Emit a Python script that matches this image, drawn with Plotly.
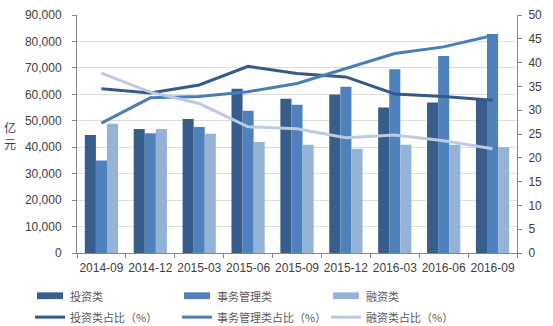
import plotly.graph_objects as go

periods = ["2014-09", "2014-12", "2015-03", "2015-06", "2015-09",
           "2015-12", "2016-03", "2016-06", "2016-09"]

# 规模（亿元）
invest = [44600, 46900, 50700, 62100, 58300, 59900, 55000, 56900, 58000]
affairs = [35000, 45300, 47600, 53800, 56100, 62900, 69500, 74500, 82800]
finance = [48900, 46900, 45100, 42000, 40900, 39400, 40900, 40900, 40000]

# 占比（%）
invest_pct = [34.5, 33.6, 35.3, 39.2, 37.7, 37.0, 33.4, 32.9, 32.1]
affairs_pct = [27.3, 32.6, 32.9, 33.9, 35.6, 38.7, 41.9, 43.3, 45.7]
finance_pct = [37.8, 33.8, 31.4, 26.5, 26.1, 24.2, 24.8, 23.6, 21.9]

c_dark = "#385D8A"
c_mid = "#4F81BD"
c_light = "#95B3D7"
l_dark = "#34598A"
l_mid = "#4A7EBB"
l_light = "#BCCAE2"

W, H = 553, 326
ML, MR, MT, MB = 77, 36, 8, 73
PW, PH = W - ML - MR, H - MT - MB

bar_series = [("投资类", invest, c_dark),
              ("事务管理类", affairs, c_mid),
              ("融资类", finance, c_light)]
line_series = [("投资类占比（%）", invest_pct, l_dark),
               ("事务管理类占比（%）", affairs_pct, l_mid),
               ("融资类占比（%）", finance_pct, l_light)]

fig = go.Figure()
for name, vals, col in bar_series:
    fig.add_trace(go.Bar(x=periods, y=vals, name=name, marker_color=col,
                         marker_line_width=0, yaxis="y", showlegend=False))
for name, vals, col in line_series:
    fig.add_trace(go.Scatter(x=periods, y=vals, name=name, mode="lines",
                             line=dict(color=col, width=3), yaxis="y2",
                             showlegend=False))

tick_font = dict(family="Liberation Sans, Arial, sans-serif", size=12, color="#404040")
cjk = "Noto Sans CJK SC, sans-serif"


def px_x(p):
    return (p - ML) / PW


def px_y(p):
    return (H - MB - p) / PH


# legend: two rows, three columns, drawn below the plot
shapes, annos = [], []
col_x = [37, 184, 333]
row_y = [297, 319]
for i, (name, _, col) in enumerate(bar_series):
    x0 = col_x[i]
    shapes.append(dict(type="rect", xref="paper", yref="paper",
                       x0=px_x(x0), x1=px_x(x0 + 26),
                       y0=px_y(row_y[0] + 3.5), y1=px_y(row_y[0] - 3.5),
                       fillcolor=col, line=dict(width=0)))
    annos.append(dict(text=name, xref="paper", yref="paper",
                      x=px_x(x0 + 31), y=px_y(row_y[0]), xanchor="left",
                      yanchor="middle", showarrow=False,
                      font=dict(family=cjk, size=11, color="#595959")))
for i, (name, _, col) in enumerate(line_series):
    x0 = col_x[i] - 2
    shapes.append(dict(type="line", xref="paper", yref="paper",
                       x0=px_x(x0), x1=px_x(x0 + 30),
                       y0=px_y(row_y[1]), y1=px_y(row_y[1]),
                       line=dict(color=col, width=3)))
    annos.append(dict(text=name, xref="paper", yref="paper",
                      x=px_x(x0 + 33), y=px_y(row_y[1]), xanchor="left",
                      yanchor="middle", showarrow=False,
                      font=dict(family=cjk, size=11, color="#595959")))

annos.append(dict(text="亿<br>元", xref="paper", yref="paper",
                  x=px_x(10), y=px_y(132), xanchor="center", yanchor="middle",
                  showarrow=False, font=dict(family=cjk, size=12, color="#404040")))

fig.update_layout(
    width=W, height=H,
    margin=dict(l=ML, r=MR, t=MT, b=MB),
    paper_bgcolor="white", plot_bgcolor="white",
    barmode="group", bargap=0.32, bargroupgap=0,
    showlegend=False,
    xaxis=dict(type="category", tickson="boundaries", ticks="outside", ticklen=4,
               tickcolor="#868686", showline=True, linecolor="#868686",
               showgrid=False, tickfont=tick_font, tickangle=0,
               ticklabelstandoff=4),
    yaxis=dict(range=[0, 90000], dtick=10000, tickformat=",d",
               showgrid=True, gridcolor="#DEDEDE", ticks="outside", ticklen=4,
               tickcolor="#868686", showline=True, linecolor="#868686",
               tickfont=tick_font, zeroline=False, ticklabelstandoff=8),
    yaxis2=dict(range=[0, 50], dtick=5, overlaying="y", side="right",
                showgrid=False, ticks="outside", ticklen=4, tickcolor="#868686",
                showline=True, linecolor="#868686", tickfont=tick_font,
                zeroline=False, ticklabelstandoff=4),
    shapes=shapes,
    annotations=annos,
)

fig.write_html("out.html")
